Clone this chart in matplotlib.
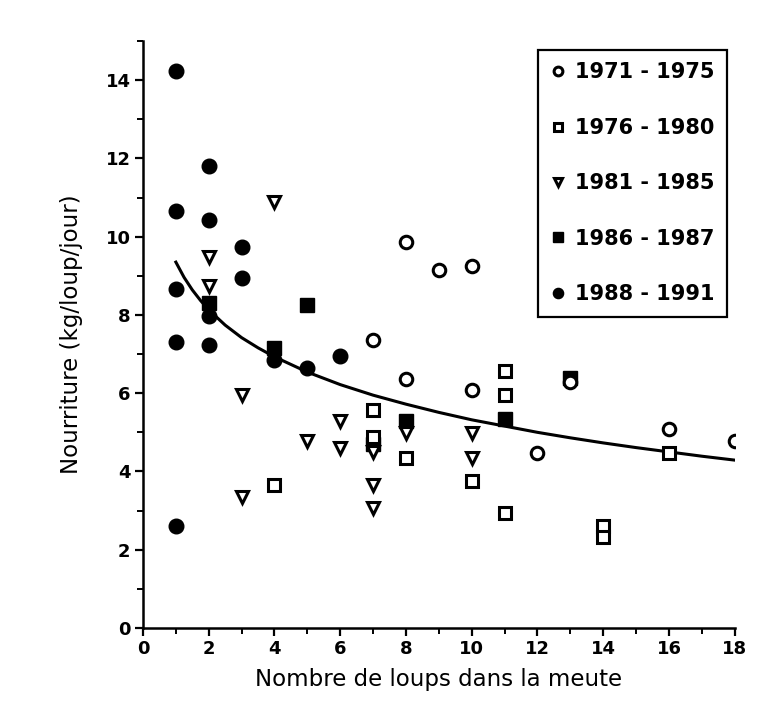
import matplotlib
matplotlib.use("Agg")
import matplotlib.pyplot as plt
from matplotlib.ticker import MultipleLocator

# Data: (wolves in pack, food kg/wolf/day)
x_7175 = [7, 8, 8, 9, 10, 10, 12, 13, 16, 18]
y_7175 = [7.35, 9.86, 6.36, 9.16, 9.26, 6.07, 4.47, 6.28, 5.09, 4.78]

x_7680 = [4, 7, 7, 8, 10, 11, 11, 11, 14, 14, 16]
y_7680 = [3.66, 5.56, 4.88, 4.34, 3.76, 6.56, 5.96, 2.93, 2.61, 2.32, 4.47]

x_8185 = [2, 2, 3, 3, 4, 5, 6, 6, 7, 7, 7, 8, 10, 10]
y_8185 = [9.48, 8.73, 5.96, 3.36, 10.88, 4.77, 5.28, 4.60, 4.50, 3.66, 3.06, 4.98, 4.98, 4.34]

x_8687 = [2, 4, 5, 7, 8, 11, 13]
y_8687 = [8.30, 7.15, 8.26, 4.70, 5.28, 5.34, 6.40]

x_8891 = [1, 1, 1, 1, 1, 2, 2, 2, 2, 3, 3, 4, 5, 6]
y_8891 = [14.23, 10.65, 8.66, 7.32, 2.61, 11.80, 10.43, 7.98, 7.24, 9.74, 8.94, 6.85, 6.64, 6.96]

# fitted curve, read at several points
x_fit = [1, 1.25, 1.5, 1.75, 2, 2.5, 3, 3.5, 4, 5, 6, 7, 8, 9, 10, 11, 12, 13, 14, 15, 16, 17, 18]
y_fit = [9.35, 8.96, 8.64, 8.37, 8.13, 7.74, 7.42, 7.16, 6.93, 6.54, 6.22, 5.95, 5.72, 5.51, 5.32, 5.16, 5.00, 4.86, 4.73, 4.61, 4.50, 4.39, 4.29]

labels = ["1971 - 1975", "1976 - 1980", "1981 - 1985", "1986 - 1987", "1988 - 1991"]

fig = plt.figure(figsize=(7.75, 7.2), dpi=100)
ax = fig.add_axes([0.1845, 0.1278, 0.7635, 0.8152])

ax.plot(x_fit, y_fit, color="black", lw=2.2, zorder=2)

h4, = ax.plot(x_8687, y_8687, ls="none", marker="s", ms=9.5, mfc="black", mec="black", zorder=3)
h5, = ax.plot(x_8891, y_8891, ls="none", marker="o", ms=10.5, mfc="black", mec="black", zorder=3)
h1, = ax.plot(x_7175, y_7175, ls="none", marker="o", ms=9, mfc="white", mec="black", mew=2.2, zorder=4)
h2, = ax.plot(x_7680, y_7680, ls="none", marker="s", ms=8.5, mfc="white", mec="black", mew=2.2, zorder=4)
h3, = ax.plot(x_8185, y_8185, ls="none", marker="v", ms=9, mfc="white", mec="black", mew=2.2, zorder=4)

ax.set_xlim(0, 18)
ax.set_ylim(0, 15)
ax.xaxis.set_major_locator(MultipleLocator(2))
ax.xaxis.set_minor_locator(MultipleLocator(1))
ax.yaxis.set_minor_locator(MultipleLocator(1))
ax.set_yticks([0, 2, 4, 6, 8, 10, 12, 14])

for s in ["top", "right"]:
    ax.spines[s].set_visible(False)
for s in ["left", "bottom"]:
    ax.spines[s].set_linewidth(1.8)

ax.tick_params(which="major", direction="out", length=6, width=1.6, labelsize=13, pad=3)
ax.tick_params(which="minor", direction="out", length=4, width=1.4)
for t in ax.get_xticklabels() + ax.get_yticklabels():
    t.set_fontweight("bold")

ax.set_xlabel("Nombre de loups dans la meute", fontsize=16.5, labelpad=7)
ax.set_ylabel("Nourriture (kg/loup/jour)", fontsize=16.5, labelpad=16)

leg = ax.legend([h1, h2, h3, h4, h5], labels, loc="upper right",
                bbox_to_anchor=(727 / 775, 1 - 50 / 720), bbox_transform=fig.transFigure,
                borderaxespad=0, fancybox=False, framealpha=1, edgecolor="black",
                prop={"weight": "bold", "size": 15}, markerscale=0.7,
                handlelength=0.8, handletextpad=0.4, labelspacing=1.7, borderpad=0.6)
leg.get_frame().set_linewidth(1.6)

fig.savefig("out.png", dpi=100, facecolor="white")
